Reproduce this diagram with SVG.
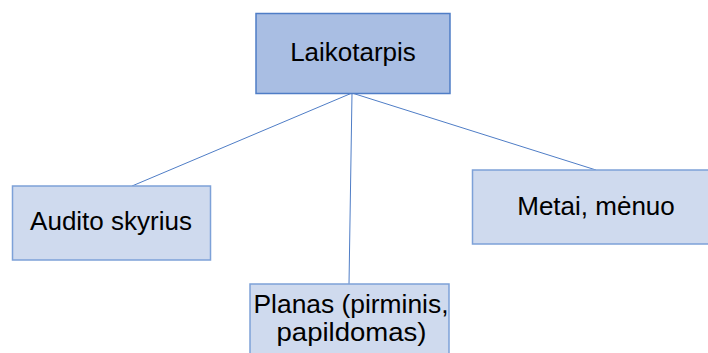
<svg xmlns="http://www.w3.org/2000/svg" width="708" height="353" viewBox="0 0 708 353">
<style>
.n text{font-family:"Liberation Sans",Arial,sans-serif;font-size:26px;fill:#000;text-anchor:middle}
.main{fill:#A9BEE3;stroke:#4F7DC6;stroke-width:1.5}
.sub{fill:#CFDAEE;stroke:#7DA1D8;stroke-width:1.5}
#edges line{stroke:#4F7DC6;stroke-width:1}
</style>
<rect width="708" height="353" fill="#fff"/>
<g id="edges">
<line x1="352" y1="93" x2="132" y2="186"/>
<line x1="352" y1="93" x2="349" y2="284"/>
<line x1="352" y1="93" x2="596" y2="170"/>
</g>
<g id="n-laikotarpis" class="n">
<rect class="main" x="256" y="13.5" width="194" height="80"/>
<text x="353" y="61">Laikotarpis</text>
</g>
<g id="n-audito" class="n">
<rect class="sub" x="12.5" y="186" width="198" height="74"/>
<text x="111" y="230">Audito skyrius</text>
</g>
<g id="n-metai" class="n">
<rect class="sub" x="472.5" y="170" width="240" height="74"/>
<text x="596" y="215">Metai, mėnuo</text>
</g>
<g id="n-planas" class="n">
<rect class="sub" x="250" y="284" width="199" height="80"/>
<text x="351" y="312.5" style="font-size:25px" textLength="195" lengthAdjust="spacingAndGlyphs">Planas (pirminis,</text>
<text x="351.5" y="340.5" style="font-size:25px" textLength="150" lengthAdjust="spacingAndGlyphs">papildomas)</text>
</g>
</svg>
